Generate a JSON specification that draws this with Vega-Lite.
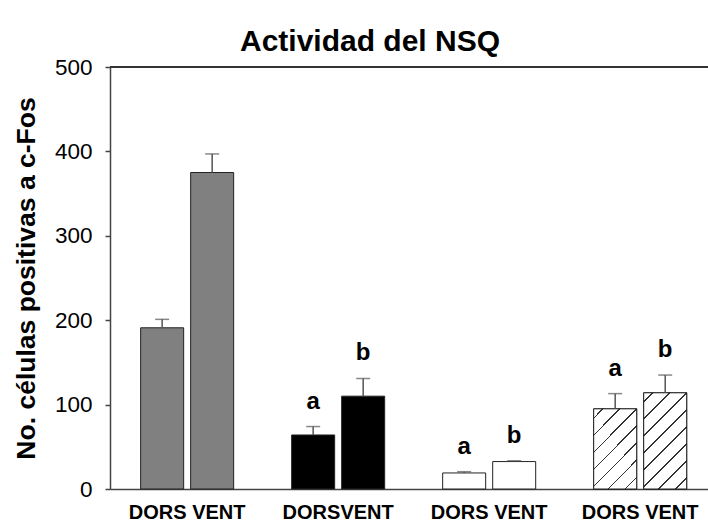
{
  "$schema": "https://vega.github.io/schema/vega-lite/v6.json",
  "width": 598,
  "height": 422,
  "autosize": {"type": "none"},
  "padding": {"left": 110, "top": 67, "right": 0, "bottom": 36},
  "background": "white",
  "config": {"font": "Liberation Sans", "view": {"stroke": null}},
  "title": {"text": "Actividad del NSQ", "fontSize": 30, "fontWeight": "bold", "font": "Liberation Sans", "color": "black", "anchor": "middle", "frame": "group", "dx": -39, "offset": 10, "dy": 11},
  "data": {"values": [
    {"group": "1", "region": "DORS", "value": 191, "upper": 201, "letter": ""},
    {"group": "1", "region": "VENT", "value": 375, "upper": 397, "letter": ""},
    {"group": "2", "region": "DORS", "value": 64, "upper": 74, "letter": "a"},
    {"group": "2", "region": "VENT", "value": 110, "upper": 131, "letter": "b"},
    {"group": "3", "region": "DORS", "value": 19, "upper": 20.5, "letter": "a"},
    {"group": "3", "region": "VENT", "value": 32.5, "upper": 33.5, "letter": "b"},
    {"group": "4", "region": "DORS", "value": 95, "upper": 113, "letter": "a"},
    {"group": "4", "region": "VENT", "value": 114, "upper": 135, "letter": "b"}
  ]},
  "layer": [
    {
      "mark": {"type": "rule", "color": "#333", "strokeWidth": 1.5},
      "encoding": {"y": {"datum": 500, "type": "quantitative"}}
    },
    {
      "encoding": {
        "x": {"field": "group", "type": "nominal", "sort": null,
          "scale": {"paddingInner": 0.384, "paddingOuter": 0.172, "align": 0.59},
          "axis": {"title": null, "labelExpr": "datum.value == '2' ? 'DORSVENT' : 'DORS VENT'", "ticks": false, "domainColor": "#444", "domainWidth": 1.5, "labelFontSize": 20, "labelFontWeight": "bold", "labelColor": "black", "labelPadding": 13, "labelAngle": 0}},
        "xOffset": {"field": "region", "type": "nominal", "sort": null, "scale": {"paddingInner": 0.14, "paddingOuter": 0}}
      },
      "layer": [
        {
          "mark": {"type": "bar", "stroke": "#222", "strokeWidth": 1},
          "encoding": {
            "y": {"field": "value", "type": "quantitative", "scale": {"domain": [0, 500], "nice": false},
              "axis": {"title": "No. células positivas a c-Fos", "titleFontSize": 26.5, "titleFontWeight": "bold", "titleColor": "black", "titlePadding": 14, "values": [0, 100, 200, 300, 400, 500], "labelFontSize": 22.5, "labelColor": "black", "labelPadding": 13, "tickSize": 5, "tickColor": "#444", "tickWidth": 1.5, "domainColor": "#444", "domainWidth": 1.5, "grid": false}},
            "fill": {"field": "group", "type": "nominal", "sort": null, "scale": {"domain": ["1", "2", "3", "4"], "range": ["#808080", "#000000", "#ffffff", "#ffffff"]}, "legend": null}
          }
        },
        {
          "transform": [{"filter": "datum.group == '4' && datum.region == 'DORS'"}],
          "mark": {"type": "bar", "stroke": "#222", "strokeWidth": 1,
            "fill": {"gradient": "linear", "x1": 0, "y1": 0, "x2": 0.641, "y2": 1.193, "stops": [
              {"offset": 0, "color": "#ffffff"},
              {"offset": 0.069, "color": "#ffffff"}, {"offset": 0.069, "color": "#333333"}, {"offset": 0.083, "color": "#333333"}, {"offset": 0.083, "color": "#ffffff"},
              {"offset": 0.207, "color": "#ffffff"}, {"offset": 0.207, "color": "#333333"}, {"offset": 0.221, "color": "#333333"}, {"offset": 0.221, "color": "#ffffff"},
              {"offset": 0.345, "color": "#ffffff"}, {"offset": 0.345, "color": "#333333"}, {"offset": 0.359, "color": "#333333"}, {"offset": 0.359, "color": "#ffffff"},
              {"offset": 0.483, "color": "#ffffff"}, {"offset": 0.483, "color": "#333333"}, {"offset": 0.497, "color": "#333333"}, {"offset": 0.497, "color": "#ffffff"},
              {"offset": 0.621, "color": "#ffffff"}, {"offset": 0.621, "color": "#333333"}, {"offset": 0.635, "color": "#333333"}, {"offset": 0.635, "color": "#ffffff"},
              {"offset": 0.759, "color": "#ffffff"}, {"offset": 0.759, "color": "#333333"}, {"offset": 0.773, "color": "#333333"}, {"offset": 0.773, "color": "#ffffff"},
              {"offset": 0.897, "color": "#ffffff"}, {"offset": 0.897, "color": "#333333"}, {"offset": 0.911, "color": "#333333"}, {"offset": 0.911, "color": "#ffffff"},
              {"offset": 1, "color": "#ffffff"}
            ]}},
          "encoding": {"y": {"field": "value", "type": "quantitative"}}
        },
        {
          "transform": [{"filter": "datum.group == '4' && datum.region == 'VENT'"}],
          "mark": {"type": "bar", "stroke": "#222", "strokeWidth": 1,
            "fill": {"gradient": "linear", "x1": 0, "y1": 0, "x2": 0.54, "y2": 1.206, "stops": [
              {"offset": 0, "color": "#ffffff"},
              {"offset": 0.061, "color": "#ffffff"}, {"offset": 0.061, "color": "#333333"}, {"offset": 0.073, "color": "#333333"}, {"offset": 0.073, "color": "#ffffff"},
              {"offset": 0.183, "color": "#ffffff"}, {"offset": 0.183, "color": "#333333"}, {"offset": 0.195, "color": "#333333"}, {"offset": 0.195, "color": "#ffffff"},
              {"offset": 0.305, "color": "#ffffff"}, {"offset": 0.305, "color": "#333333"}, {"offset": 0.317, "color": "#333333"}, {"offset": 0.317, "color": "#ffffff"},
              {"offset": 0.427, "color": "#ffffff"}, {"offset": 0.427, "color": "#333333"}, {"offset": 0.439, "color": "#333333"}, {"offset": 0.439, "color": "#ffffff"},
              {"offset": 0.549, "color": "#ffffff"}, {"offset": 0.549, "color": "#333333"}, {"offset": 0.561, "color": "#333333"}, {"offset": 0.561, "color": "#ffffff"},
              {"offset": 0.671, "color": "#ffffff"}, {"offset": 0.671, "color": "#333333"}, {"offset": 0.683, "color": "#333333"}, {"offset": 0.683, "color": "#ffffff"},
              {"offset": 0.793, "color": "#ffffff"}, {"offset": 0.793, "color": "#333333"}, {"offset": 0.805, "color": "#333333"}, {"offset": 0.805, "color": "#ffffff"},
              {"offset": 0.915, "color": "#ffffff"}, {"offset": 0.915, "color": "#333333"}, {"offset": 0.927, "color": "#333333"}, {"offset": 0.927, "color": "#ffffff"},
              {"offset": 1, "color": "#ffffff"}
            ]}},
          "encoding": {"y": {"field": "value", "type": "quantitative"}}
        },
        {
          "mark": {"type": "rule", "color": "#555", "strokeWidth": 1.5},
          "encoding": {"y": {"field": "value", "type": "quantitative"}, "y2": {"field": "upper"}}
        },
        {
          "mark": {"type": "tick", "color": "#555", "thickness": 1.5, "size": 14},
          "encoding": {"y": {"field": "upper", "type": "quantitative"}}
        },
        {
          "mark": {"type": "text", "fontSize": 24, "fontWeight": "bold", "dy": -18, "baseline": "alphabetic", "color": "black"},
          "encoding": {"y": {"field": "upper", "type": "quantitative"}, "text": {"field": "letter"}}
        }
      ]
    }
  ]
}
